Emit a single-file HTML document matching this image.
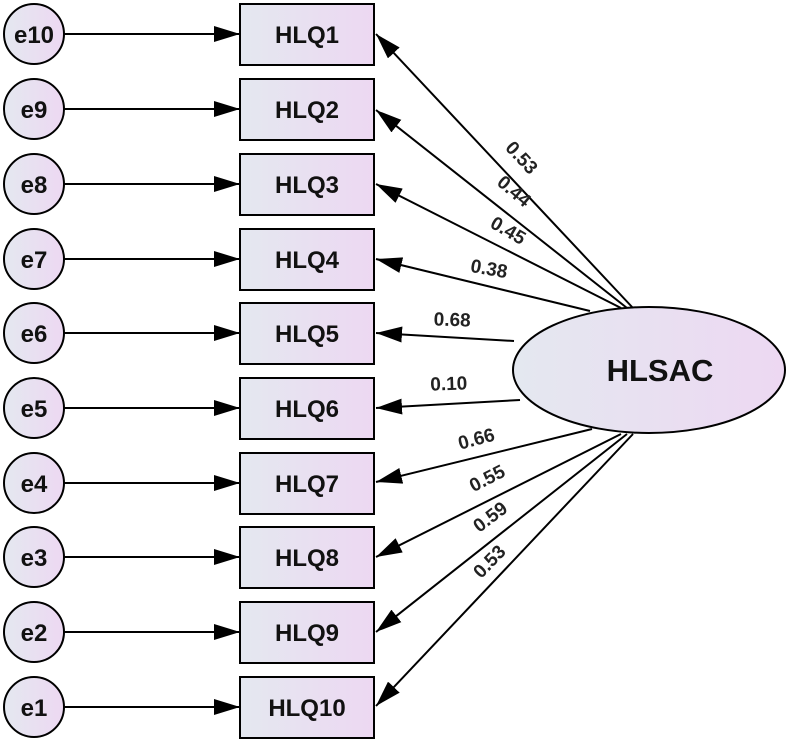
<!DOCTYPE html>
<html><head><style>body{margin:0;background:#fff}</style></head><body>
<svg width="787" height="742" viewBox="0 0 787 742" xmlns="http://www.w3.org/2000/svg" font-family="Liberation Sans, sans-serif">
<defs>
<linearGradient id="g" x1="0" y1="0" x2="1" y2="0"><stop offset="0" stop-color="#e4e8f0"/><stop offset="1" stop-color="#edd8f2"/></linearGradient>
<marker id="a" viewBox="0 0 26 16" refX="26" refY="8" markerWidth="26" markerHeight="16" markerUnits="userSpaceOnUse" orient="auto"><path d="M0,0L26,8L0,16z" fill="#000"/></marker>
</defs>
<g stroke="#000" stroke-width="2" fill="url(#g)">
<circle cx="34" cy="34" r="30"/><circle cx="34" cy="109" r="30"/><circle cx="34" cy="184" r="30"/><circle cx="34" cy="259" r="30"/><circle cx="34" cy="333" r="30"/><circle cx="34" cy="408" r="30"/><circle cx="34" cy="483" r="30"/><circle cx="34" cy="557" r="30"/><circle cx="34" cy="632" r="30"/><circle cx="34" cy="707" r="30"/>
<rect x="240" y="4" width="134" height="61"/><rect x="240" y="79" width="134" height="61"/><rect x="240" y="154" width="134" height="61"/><rect x="240" y="229" width="134" height="61"/><rect x="240" y="303" width="134" height="61"/><rect x="240" y="378" width="134" height="61"/><rect x="240" y="453" width="134" height="61"/><rect x="240" y="527" width="134" height="61"/><rect x="240" y="602" width="134" height="61"/><rect x="240" y="677" width="134" height="61"/>
<ellipse cx="649" cy="370" rx="136" ry="63"/>
</g>
<g stroke="#000" stroke-width="2" marker-end="url(#a)">
<line x1="64" y1="34" x2="240" y2="34"/><line x1="64" y1="109" x2="240" y2="109"/><line x1="64" y1="184" x2="240" y2="184"/><line x1="64" y1="259" x2="240" y2="259"/><line x1="64" y1="333" x2="240" y2="333"/><line x1="64" y1="408" x2="240" y2="408"/><line x1="64" y1="483" x2="240" y2="483"/><line x1="64" y1="557" x2="240" y2="557"/><line x1="64" y1="632" x2="240" y2="632"/><line x1="64" y1="707" x2="240" y2="707"/>
<line x1="633" y1="308" x2="376" y2="34"/><line x1="627" y1="308" x2="376" y2="110"/><line x1="621" y1="308" x2="376" y2="184"/><line x1="590" y1="311" x2="376" y2="259"/>
<line x1="514" y1="341" x2="376" y2="333"/><line x1="520" y1="400" x2="376" y2="408"/>
<line x1="592" y1="429" x2="376" y2="482"/><line x1="621" y1="434" x2="376" y2="557"/><line x1="627" y1="434" x2="376" y2="632"/><line x1="633" y1="434" x2="376" y2="706"/>
</g>
<g font-weight="bold" font-size="24" text-anchor="middle" fill="#111">
<text x="34" y="43">e10</text><text x="34" y="118">e9</text><text x="34" y="193">e8</text><text x="34" y="268">e7</text><text x="34" y="342">e6</text><text x="34" y="417">e5</text><text x="34" y="492">e4</text><text x="34" y="566">e3</text><text x="34" y="641">e2</text><text x="34" y="716">e1</text>
<text x="307" y="43">HLQ1</text><text x="307" y="118">HLQ2</text><text x="307" y="193">HLQ3</text><text x="307" y="268">HLQ4</text><text x="307" y="342">HLQ5</text><text x="307" y="417">HLQ6</text><text x="307" y="492">HLQ7</text><text x="307" y="566">HLQ8</text><text x="307" y="641">HLQ9</text><text x="307" y="716">HLQ10</text>
<text x="660" y="381" font-size="31">HLSAC</text>
</g>
<g font-weight="bold" font-size="19" text-anchor="middle" fill="#222">
<text transform="translate(517,162) rotate(47)">0.53</text>
<text transform="translate(510,196) rotate(40)">0.44</text>
<text transform="translate(505,236) rotate(30)">0.45</text>
<text transform="translate(488,275) rotate(10)">0.38</text>
<text transform="translate(452,326) rotate(2)">0.68</text>
<text transform="translate(449,390) rotate(-2)">0.10</text>
<text transform="translate(478,445) rotate(-15)">0.66</text>
<text transform="translate(490,484) rotate(-27)">0.55</text>
<text transform="translate(494,522) rotate(-37)">0.59</text>
<text transform="translate(494,566) rotate(-46)">0.53</text>
</g>
</svg>
</body></html>
